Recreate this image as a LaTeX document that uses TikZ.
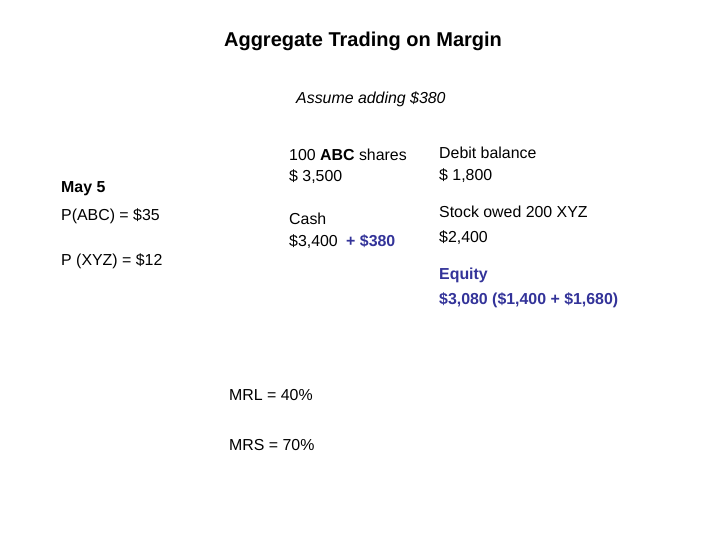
\documentclass[tikz,border=0pt]{standalone}
\usepackage{fontspec}
\setmainfont{Liberation Sans}
\usepackage{xcolor}
\usetikzlibrary{calc}
\definecolor{equityblue}{RGB}{51,51,153}

\begin{document}
\begin{tikzpicture}[x=1pt,y=-1pt,
	txt/.style={anchor=base west,inner sep=0pt,font=\fontsize{15.9}{18}\selectfont},
	bluetxt/.style={txt,text=equityblue,font=\fontsize{15.9}{18}\selectfont\bfseries}]
				%Canvas
				\useasboundingbox (0,0) rectangle (720,540);
				%Title
				\coordinate (title) at (363,47);
				\node [anchor=base,inner sep=0pt,font=\fontsize{20}{24}\selectfont\bfseries] (heading) at (title) {Aggregate Trading on Margin};
				\coordinate (assume) at (296,104);
				\node [txt,font=\fontsize{15.9}{18}\selectfont\itshape] (adding) at (assume) {Assume adding \$380};
				%Prices on the left
				\coordinate (left0) at (61,193);
				\coordinate (left1) at (61,221);
				\coordinate (left2) at (61,265);
				\node [txt,font=\fontsize{15.9}{18}\selectfont\bfseries] (date) at (left0) {May 5};
				\node [txt] (pabc) at (left1) {P(ABC) = \$35};
				\node [txt] (pxyz) at (left2) {P (XYZ) = \$12};
				%Assets
				\coordinate (asset0) at (289,161);
				\coordinate (asset1) at (289,182);
				\coordinate (asset2) at (289,225);
				\coordinate (asset3) at (289,247);
				\node [txt] (shares) at (asset0) {100 \textbf{ABC} shares};
				\node [txt] (sharesval) at (asset1) {\$ 3,500};
				\node [txt] (cash) at (asset2) {Cash};
				\node [txt] (cashval) at (asset3) {\$3,400};
				\node [bluetxt] (cashadd) at ($(cashval.base east)+(8,0)$) {+ \$380};
				%Liabilities and equity
				\coordinate (liab0) at (439,159);
				\coordinate (liab1) at (439,181);
				\coordinate (liab2) at (439,218);
				\coordinate (liab3) at (439,242);
				\coordinate (liab4) at (439,279);
				\coordinate (liab5) at (439,304);
				\node [txt] (debit) at (liab0) {Debit balance};
				\node [txt] (debitval) at (liab1) {\$ 1,800};
				\node [txt] (owed) at (liab2) {Stock owed 200 XYZ};
				\node [txt] (owedval) at (liab3) {\$2,400};
				\node [bluetxt] (equity) at (liab4) {Equity};
				\node [bluetxt] (equityval) at (liab5) {\$3,080 (\$1,400 + \$1,680)};
				%Margin requirements
				\coordinate (mr0) at (229,400);
				\coordinate (mr1) at (229,450);
				\node [txt] (mrl) at (mr0) {MRL = 40\%};
				\node [txt] (mrs) at (mr1) {MRS = 70\%};
\end{tikzpicture}
\end{document}
